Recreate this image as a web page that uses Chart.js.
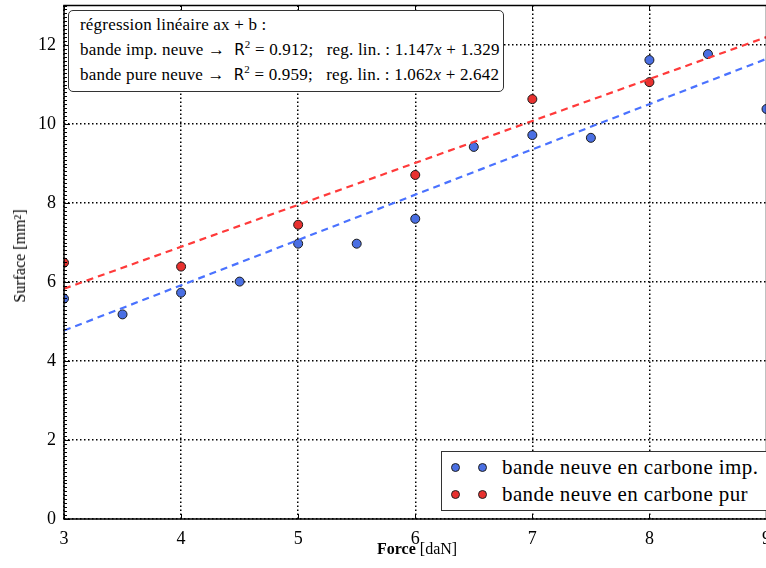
<!DOCTYPE html>
<html>
<head>
<meta charset="utf-8">
<script src="https://cdn.jsdelivr.net/npm/chart.js@4.4.0/dist/chart.umd.min.js"></script>
<style>
  html, body { margin: 0; padding: 0; background: #fff; overflow: hidden; width: 766px; height: 568px; }
  #wrap { position: relative; width: 772px; height: 568px; font-family: "Liberation Serif", "DejaVu Serif", serif; color: #000; }
  canvas { position: absolute; left: 0; top: 0; }
  .note { position: absolute; left: 68px; top: 10px; width: 423px; height: 80px; border: 1px solid #333; border-radius: 5px; background: #fff; padding: 0 0 0 11px; font-size: 17px; letter-spacing: 0.2px; white-space: nowrap; }
  .note div { height: 25px; line-height: 27px; }
  .sf { font-family: "DejaVu Sans", sans-serif; font-size: 15px; }
  .sup { font-size: 11px; position: relative; top: -7px; }
  .legend { position: absolute; left: 441px; top: 451px; width: 330px; height: 58px; border: 1px solid #333; background: #fff; font-size: 21px; letter-spacing: 0.4px; }
  .row { position: absolute; left: 0; height: 27px; line-height: 27px; white-space: nowrap; }
  .dot { position: absolute; width: 7px; height: 7px; border-radius: 50%; border: 1px solid #222; top: 9px; }
  .xt { position: absolute; left: 377px; top: 540px; font-size: 16px; }
  .xt b { font-weight: 600; }
  .yt { position: absolute; left: 20px; top: 256px; font-size: 16px; transform: translate(-50%, -50%) rotate(-90deg); white-space: nowrap; }
</style>
</head>
<body>
<div id="wrap">
  <canvas id="chart" width="772" height="568"></canvas>
  <div class="note">
    <div>régression linéaire ax + b :</div>
    <div>bande imp. neuve → &nbsp;<span class="sf">R</span><span class="sup">2</span> = 0.912;&nbsp;&nbsp; reg. lin. : 1.147<i>x</i> + 1.329</div>
    <div>bande pure neuve → &nbsp;<span class="sf">R</span><span class="sup">2</span> = 0.959;&nbsp;&nbsp; reg. lin. : 1.062<i>x</i> + 2.642</div>
  </div>
  <div class="legend">
    <div class="row" style="top:2px">
      <span class="dot" style="left:9px;background:#4a6fe3"></span>
      <span class="dot" style="left:36px;background:#4a6fe3"></span>
      <span style="position:absolute;left:60px">bande neuve en carbone imp.</span>
    </div>
    <div class="row" style="top:29px">
      <span class="dot" style="left:9px;background:#e8312f"></span>
      <span class="dot" style="left:36px;background:#e8312f"></span>
      <span style="position:absolute;left:60px">bande neuve en carbone pur</span>
    </div>
  </div>
  <div class="xt"><b>Force</b> [daN]</div>
  <div class="yt">Surface [mm²]</div>
</div>
<script>
const forceImp = [3, 3.5, 4, 4.5, 5, 5.5, 6, 6.5, 7, 7.5, 8, 8.5, 9];
const surfImp = [5.58, 5.18, 5.73, 6.01, 6.97, 6.97, 7.60, 9.42, 9.72, 9.65, 11.62, 11.77, 10.38];
const forcePur = [3, 4, 5, 6, 7, 8];
const surfPur = [6.49, 6.39, 7.45, 8.71, 10.63, 11.06];

// droites de régression (extrémités)
const fitX = [3, 9];
const fitImp = [4.77, 11.65];
const fitPur = [5.83, 12.20];

const xTicks = [3, 4, 5, 6, 7, 8, 9];
const yTicks = [0, 2, 4, 6, 8, 10, 12];

const pts = (xs, ys) => xs.map((x, i) => ({ x: x, y: ys[i] }));

// cadre + graduations vers l'intérieur
const framePlugin = {
  id: "frame",
  afterDraw(chart) {
    const { ctx, chartArea: a, scales } = chart;
    const xs = scales.x, ys = scales.y;
    ctx.save();
    ctx.strokeStyle = "#000";
    ctx.lineWidth = 1;
    ctx.beginPath();
    xTicks.forEach((t) => {
      const px = Math.round(xs.getPixelForValue(t)) + 0.5;
      ctx.moveTo(px, a.bottom); ctx.lineTo(px, a.bottom - 5);
      ctx.moveTo(px, a.top); ctx.lineTo(px, a.top + 5);
    });
    for (let v = 0; v <= 13.001; v += 0.1) {
      const py = Math.round(ys.getPixelForValue(v)) + 0.5;
      const major = Math.abs(v / 2 - Math.round(v / 2)) < 0.01;
      ctx.moveTo(a.left, py); ctx.lineTo(a.left + (major ? 6 : 3), py);
    }
    ctx.stroke();
    ctx.lineWidth = 1.5;
    ctx.strokeRect(a.left, a.top, a.right - a.left, a.bottom - a.top);
    ctx.restore();
  },
};

new Chart(document.getElementById("chart"), {
  type: "scatter",
  data: {
    datasets: [
      {
        type: "line",
        data: pts(fitX, fitImp),
        borderColor: "#4a72ff",
        borderWidth: 2.2,
        borderDash: [7, 5],
        pointRadius: 0,
        fill: false,
      },
      {
        type: "line",
        data: pts(fitX, fitPur),
        borderColor: "#ff3a3a",
        borderWidth: 2.2,
        borderDash: [7, 5],
        pointRadius: 0,
        fill: false,
      },
      {
        data: pts(forceImp, surfImp),
        backgroundColor: "#4a6fe3",
        borderColor: "#1a1a1a",
        borderWidth: 1,
        pointRadius: 4.5,
      },
      {
        data: pts(forcePur, surfPur),
        backgroundColor: "#e8312f",
        borderColor: "#1a1a1a",
        borderWidth: 1,
        pointRadius: 4.5,
      },
    ],
  },
  options: {
    responsive: false,
    animation: false,
    layout: { padding: { top: 5, right: 2, left: 0, bottom: 0 } },
    plugins: { legend: { display: false }, tooltip: { enabled: false } },
    scales: {
      x: {
        type: "linear",
        min: 3,
        max: 9,
        afterBuildTicks: (s) => { s.ticks = xTicks.map((v) => ({ value: v })); },
        afterFit: (s) => { s.height = 49; s.paddingLeft = 0; s.paddingRight = 0; },
        grid: { color: "#000", lineWidth: 1.5, drawTicks: false },
        border: { display: false, dash: [1.5, 2.5] },
        ticks: { color: "#000", padding: 9, font: { family: "Liberation Serif", size: 18 }, maxRotation: 0 },
      },
      y: {
        min: 0,
        max: 13,
        afterBuildTicks: (s) => { s.ticks = yTicks.map((v) => ({ value: v })); },
        afterFit: (s) => { s.width = 64; s.paddingTop = 0; s.paddingBottom = 0; },
        grid: { color: "#000", lineWidth: 1.5, drawTicks: false },
        border: { display: false, dash: [1.5, 2.5] },
        ticks: { color: "#000", padding: 8, font: { family: "Liberation Serif", size: 18 } },
      },
    },
  },
  plugins: [framePlugin],
});
</script>
</body>
</html>
